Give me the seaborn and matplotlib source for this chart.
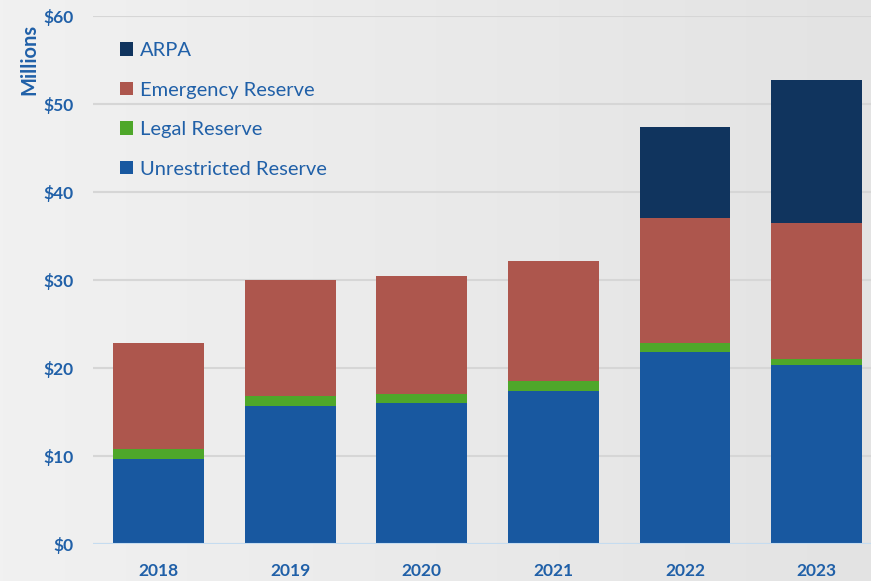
import numpy as np
import pandas as pd
import seaborn as sns
import matplotlib
matplotlib.use("Agg")
import matplotlib.pyplot as plt
from matplotlib.patches import Patch
from matplotlib.colors import LinearSegmentedColormap

years = ["2018", "2019", "2020", "2021", "2022", "2023"]
unrestricted = [9.7, 15.7, 16.0, 17.4, 21.85, 20.3]
legal = [1.1, 1.15, 1.1, 1.1, 1.0, 0.7]
emergency = [12.0, 13.15, 13.35, 13.7, 14.2, 15.5]
arpa = [0.0, 0.0, 0.0, 0.0, 10.3, 16.2]
series_names = ["ARPA", "Emergency Reserve", "Legal Reserve", "Unrestricted Reserve"]
y_ticks = [0, 10, 20, 30, 40, 50, 60]

colors = {
    "ARPA": "#10345E",
    "Emergency Reserve": "#AD564D",
    "Legal Reserve": "#4EA72A",
    "Unrestricted Reserve": "#1858A0",
}
text_color = "#2060A8"

sns.set_theme(style="white")
plt.rcParams["font.family"] = ["Lato", "DejaVu Sans"]

W, H = 871, 581
fig = plt.figure(figsize=(W / 100, H / 100), dpi=100)

# background gradient
bg = fig.add_axes([0, 0, 1, 1], zorder=-10)
cmap = LinearSegmentedColormap.from_list("bg", ["#F1F1F1", "#E3E3E3"])
bg.imshow(np.linspace(0, 1, 256).reshape(1, -1), aspect="auto", cmap=cmap,
          extent=[0, 1, 0, 1])
bg.axis("off")

left, right, bottom, top = 93, 871, 544, 16
ax = fig.add_axes([left / W, (H - bottom) / H, (right - left) / W, (bottom - top) / H])
ax.set_facecolor("none")

df = pd.DataFrame({
    "year": years,
    "Unrestricted Reserve": unrestricted,
    "Legal Reserve": legal,
    "Emergency Reserve": emergency,
    "ARPA": arpa,
})
c1 = df["Unrestricted Reserve"]
c2 = c1 + df["Legal Reserve"]
c3 = c2 + df["Emergency Reserve"]
c4 = c3 + df["ARPA"]
layers = [("ARPA", c4), ("Emergency Reserve", c3), ("Legal Reserve", c2), ("Unrestricted Reserve", c1)]
for name, vals in layers:
    d = pd.DataFrame({"year": years, "val": vals})
    sns.barplot(data=d, x="year", y="val", color=colors[name], width=0.69,
                saturation=1, ax=ax, zorder=3, linewidth=0)

ax.set_xlim(-0.5, (871 - 158.5) / 131.6)
ax.set_ylim(0, 60)
ax.set_yticks(y_ticks)
ax.set_yticklabels([f"${v}" for v in y_ticks])
ax.yaxis.grid(True, color="#D6D6D6", linewidth=1.5, zorder=0)
ax.axhline(0, color="#C5DCF0", linewidth=1.5, zorder=4)
ax.set_axisbelow(True)
for s in ax.spines.values():
    s.set_visible(False)
ax.tick_params(axis="y", length=0, pad=14, labelsize=12.5, labelcolor=text_color)
ax.tick_params(axis="x", length=0, pad=14, labelsize=12.5, labelcolor=text_color)
for lbl in ax.get_xticklabels() + ax.get_yticklabels():
    lbl.set_fontweight("bold")
ax.set_xlabel("")
ax.set_ylabel("")

fig.text(29 / W, 1 - 59 / H, "Millions", rotation=90, ha="center", va="center",
         fontsize=14.5, fontweight="bold", color=text_color)

handles = [Patch(facecolor=colors[n], edgecolor="none") for n in series_names]
leg = ax.legend(handles, series_names, loc="upper left",
                bbox_to_anchor=((112 - left) / (right - left), (bottom - 34) / (bottom - top)),
                frameon=False, fontsize=14.5, handlelength=0.65, handleheight=0.65,
                handletextpad=0.35, labelspacing=1.12, borderaxespad=0)
for t in leg.get_texts():
    t.set_color(text_color)

fig.savefig("out.png", dpi=100)
